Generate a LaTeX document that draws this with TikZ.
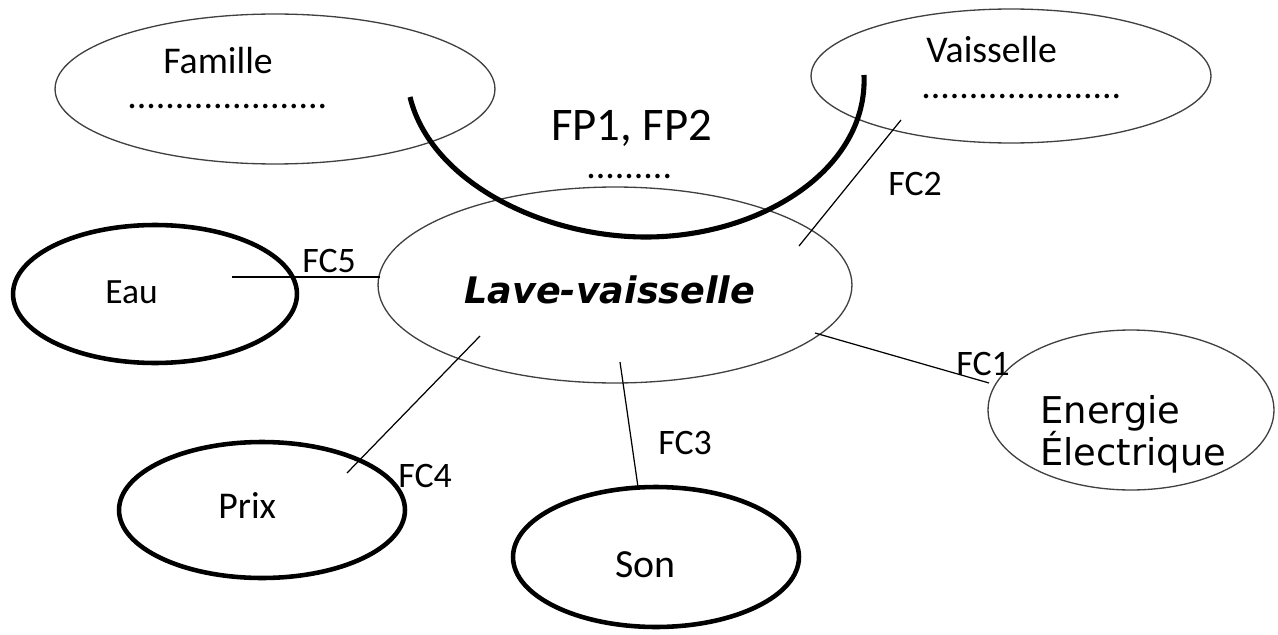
\documentclass[tikz,border=0pt]{standalone}
\usepackage{fontspec}
\setmainfont{Carlito}
\newfontfamily\verdana{DejaVu Sans}
\usetikzlibrary{shapes.geometric}

\tikzset{
    thinell/.style={ellipse,draw=black!75,line width=0.75pt,inner sep=0pt},
    thickell/.style={ellipse,draw=black,line width=2.6pt,inner sep=0pt},
    label/.style={anchor=base west,inner sep=0pt,font=\fontsize{21.5}{24}\selectfont},
    dots/.style={anchor=base west,inner sep=0pt,text height=0.15em,text depth=0pt,font=\fontsize{21.5}{24}\selectfont},
    fclabel/.style={anchor=base west,inner sep=0pt,font=\fontsize{20.4}{24}\selectfont},
    link/.style={draw=black,line width=0.7pt},
    arcline/.style={draw=black,line width=2.9pt}
}

\begin{document}
\begin{tikzpicture}[x=0.02cm,y=-0.02cm]
            \useasboundingbox (0,0) rectangle (1278,635);
            % ellipses
            \node[thinell,minimum width=8.8cm,minimum height=3.0cm] (famille) at (275,89) {};
            \node[thinell,minimum width=8.0cm,minimum height=2.68cm] (vaisselle) at (1011,76) {};
            \node[thinell,minimum width=9.48cm,minimum height=3.92cm] (lave) at (615,285) {};
            \node[thickell,minimum width=5.68cm,minimum height=2.76cm] (eau) at (155,294) {};
            \node[thickell,minimum width=5.72cm,minimum height=2.72cm] (prix) at (262,510) {};
            \node[thickell,minimum width=5.72cm,minimum height=2.8cm] (son) at (656,557) {};
            \node[thinell,minimum width=5.72cm,minimum height=3.2cm] (energie) at (1131,410) {};
            % texts
            \node[label] (familletxt) at (163,74) {Famille};
            \node[dots] (familledots) at (127,109) {.....................};
            \node[label] (vaisselletxt) at (926,63) {Vaisselle};
            \node[dots] (vaisselledots) at (921,99) {.....................};
            \node[label,font=\fontsize{26.6}{30}\selectfont] (fptxt) at (551,140) {FP1, FP2};
            \node[dots] (fpdots) at (586,178) {.........};
            \node[label,font=\verdana\bfseries\itshape\fontsize{20.8}{24}\selectfont] (lavetxt) at (464,303) {Lave-vaisselle};
            \node[label,font=\fontsize{20.2}{24}\selectfont] (eautxt) at (105,303) {Eau};
            \node[label] (prixtxt) at (218,518) {Prix};
            \node[label,font=\fontsize{22.7}{26}\selectfont] (sontxt) at (615,577) {Son};
            \node[label,font=\verdana\fontsize{21}{24}\selectfont] (energietxt) at (1040,423) {Energie};
            \node[label,font=\verdana\fontsize{21}{24}\selectfont] (electtxt) at (1040,465) {Électrique};
            % free ends of the links
            \coordinate (eauin) at (232,277);
            \coordinate (laveW) at (380,277);
            \coordinate (vaissellein) at (901,120);
            \coordinate (laveNE) at (799,246);
            \coordinate (laveE) at (815,333);
            \coordinate (energieW) at (989,383);
            \coordinate (laveSW) at (480,336);
            \coordinate (prixin) at (347,473);
            \coordinate (laveS) at (620,362);
            \coordinate (sonN) at (638,487);
            \draw[link] (eauin) -- (laveW);
            \draw[link] (vaissellein) -- (laveNE);
            \draw[link] (laveE) -- (energieW);
            \draw[link] (laveSW) -- (prixin);
            \draw[link] (laveS) -- (sonN);
            \node[fclabel] (fc5) at (302,272) {FC5};
            \node[fclabel] (fc2) at (888,195) {FC2};
            \node[fclabel] (fc1) at (956,375) {FC1};
            \node[fclabel] (fc4) at (398,487) {FC4};
            \node[fclabel] (fc3) at (658,454) {FC3};
            % the big arc
            \draw[arcline] (410,97) .. controls (430,180) and (540,237) .. (646,237)
                .. controls (760,237) and (868,170) .. (864,75);
        \end{tikzpicture}
\end{document}
